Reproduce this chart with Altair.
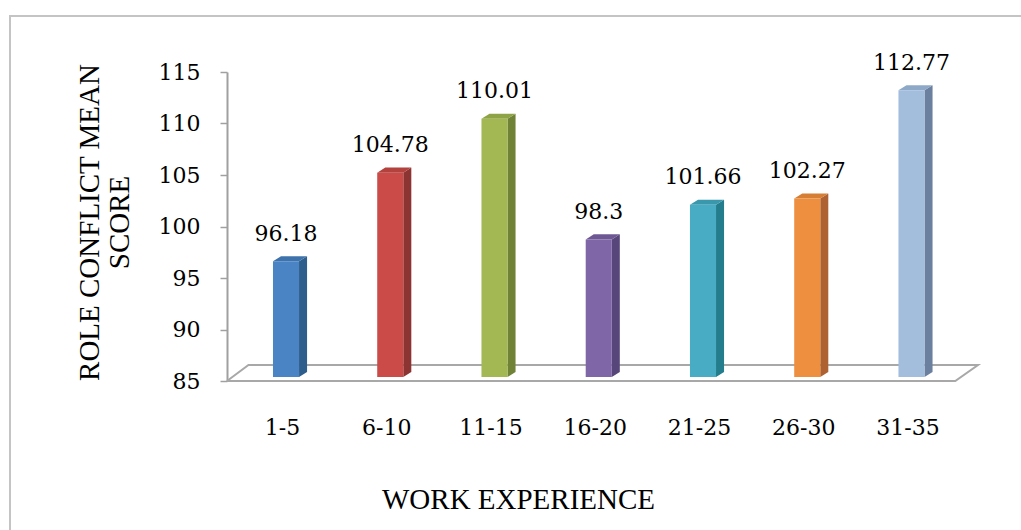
import altair as alt
import pandas as pd

# ---- data ----
categories = ["1-5", "6-10", "11-15", "16-20", "21-25", "26-30", "31-35"]
values = [96.18, 104.78, 110.01, 98.3, 101.66, 102.27, 112.77]
y_ticks = [85, 90, 95, 100, 105, 110, 115]

front_colors = ["#4A84C4", "#CA4B48", "#A3B852", "#7F66A6", "#48ADC4", "#ED8F3E", "#A3BDDC"]
side_colors = ["#2E5E8C", "#8C3432", "#6F8236", "#574679", "#237D8C", "#AE6231", "#6A809E"]
top_colors = ["#3E72AA", "#B3413E", "#8EA346", "#6E5894", "#3A98AD", "#D67E33", "#8EA8C8"]

# ---- 3D-look geometry (style constants) ----
HALF = 0.125      # half width of bar front face (x units)
DEPTH = 0.077     # depth of side face (x units)
RISE = 0.49       # vertical rise of depth (value units)
LIFT = 0.45       # front top lift above value (value units)
BASE = 85.39      # bar base level
X_DOM = [-0.566, 6.638]
Y_DOM = [85, 115]
W, H = 751, 309

SERIF = "Liberation Serif"
NUM = "DejaVu Serif"

base = pd.DataFrame({"cat": categories, "idx": list(range(len(categories))), "v": values})
base["L"] = base["idx"] - HALF
base["R"] = base["idx"] + HALF
base["top"] = base["v"] + LIFT
base["base"] = BASE

side_rows, top_rows = [], []
for i, (c, v) in enumerate(zip(categories, values)):
    t = v + LIFT
    side_rows += [
        {"cat": c, "x": i + HALF, "y": BASE, "y2": t},
        {"cat": c, "x": i + HALF + DEPTH, "y": BASE + RISE, "y2": t + RISE},
    ]
    top_rows += [
        {"cat": c, "x": i - HALF, "y": t, "y2": t},
        {"cat": c, "x": i - HALF + DEPTH, "y": t, "y2": t + RISE},
        {"cat": c, "x": i + HALF, "y": t, "y2": t + RISE},
        {"cat": c, "x": i + HALF + DEPTH, "y": t + RISE, "y2": t + RISE},
    ]
side_df = pd.DataFrame(side_rows)
top_df = pd.DataFrame(top_rows)

floor_df = pd.DataFrame({
    "o": [0, 1, 2, 3, 4],
    "x": [-0.566, 6.42, 6.638, -0.36, -0.566],
    "y": [85, 85, 86.55, 86.55, 85],
})

xs = alt.Scale(domain=X_DOM, nice=False, zero=False)
ys = alt.Scale(domain=Y_DOM, nice=False, zero=False)

label_expr = "[" + ",".join(f"'{c}'" for c in categories) + "][datum.value]"

x_axis = alt.Axis(
    values=list(range(len(categories))), labelExpr=label_expr, domain=False, ticks=False,
    grid=False, labelFont=NUM, labelFontSize=22, labelColor="#000000", labelPadding=46,
    labelBaseline="middle", labelOffset=-4,
    title="WORK EXPERIENCE", titleFont=SERIF, titleFontSize=29, titleFontWeight="normal",
    titleColor="#000000", titleX=291, titleY=118, titleAlign="center", titleBaseline="middle",
    titleAnchor="start",
)
y_axis = alt.Axis(
    values=y_ticks, grid=False, domainColor="#a0a0a0", domainWidth=2, tickColor="#a0a0a0",
    tickSize=7, tickWidth=1.5, labelFont=NUM, labelFontSize=22, labelColor="#000000",
    labelPadding=20,
    title=["ROLE CONFLICT MEAN", "SCORE"], titleFont=SERIF, titleFontSize=29,
    titleFontWeight="normal", titleColor="#000000", titleX=-138, titleY=150,
    titleAngle=270, titleAlign="center", titleBaseline="middle", titleLineHeight=30,
    titleAnchor="start",
)

floor = alt.Chart(floor_df).mark_line(color="#a8a8a8", strokeWidth=2).encode(
    x=alt.X("x:Q", scale=xs, axis=x_axis),
    y=alt.Y("y:Q", scale=ys, axis=y_axis),
    order="o:O",
)

front = alt.Chart(base).mark_rect().encode(
    x=alt.X("L:Q", scale=xs), x2="R:Q",
    y=alt.Y("base:Q", scale=ys), y2="top:Q",
    color=alt.Color("cat:N", scale=alt.Scale(domain=categories, range=front_colors), legend=None),
)

side = alt.Chart(side_df).mark_area().encode(
    x=alt.X("x:Q", scale=xs),
    y=alt.Y("y:Q", scale=ys), y2="y2:Q",
    detail="cat:N",
    color=alt.Color("cat:N", scale=alt.Scale(domain=categories, range=side_colors), legend=None),
)

top = alt.Chart(top_df).mark_area().encode(
    x=alt.X("x:Q", scale=xs),
    y=alt.Y("y:Q", scale=ys), y2="y2:Q",
    detail="cat:N",
    color=alt.Color("cat:N", scale=alt.Scale(domain=categories, range=top_colors), legend=None),
)

labels = alt.Chart(base).mark_text(
    font=NUM, fontSize=22, color="#000000", dy=-32, baseline="middle", align="center"
).encode(
    x=alt.X("idx:Q", scale=xs),
    y=alt.Y("v:Q", scale=ys),
    text=alt.Text("v:Q"),
)

border = alt.Chart(pd.DataFrame({"a": [0]})).mark_rect(
    fill="transparent", stroke="#c4c4c4", strokeWidth=2
).encode(
    x=alt.value(-217), x2=alt.value(810), y=alt.value(-56), y2=alt.value(480),
)

chart = alt.layer(floor, side, top, front, labels, border).resolve_scale(
    color="independent"
).properties(
    width=W, height=H,
    autosize=alt.AutoSizeParams(type="none"),
    padding={"left": 227, "top": 72, "right": 43, "bottom": 149},
    background="white",
).configure_view(strokeWidth=0)

chart.save("out.html", embed_options={"renderer": "svg", "actions": False})
